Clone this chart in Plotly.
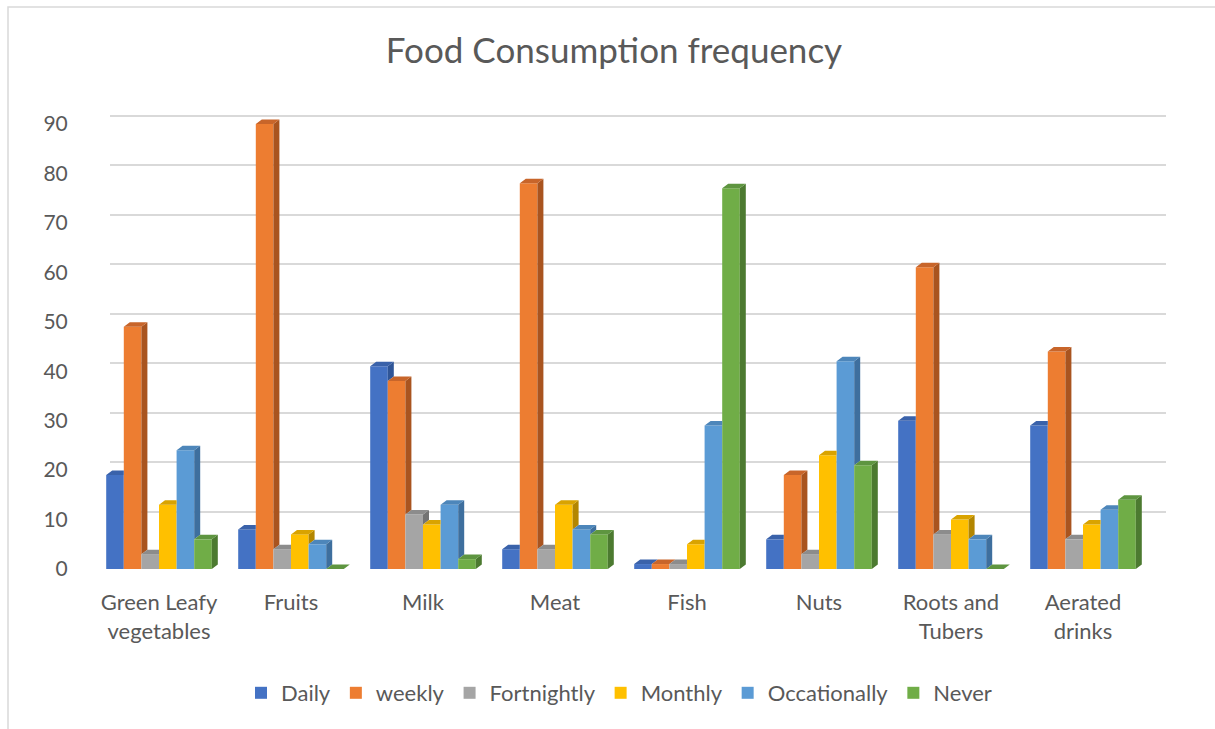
import plotly.graph_objects as go

# ---------------- data ----------------
categories = ["Green Leafy<br>vegetables", "Fruits", "Milk", "Meat", "Fish", "Nuts",
              "Roots and<br>Tubers", "Aerated<br>drinks"]
series_names = ["Daily", "weekly", "Fortnightly", "Monthly", "Occationally", "Never"]
daily = [19, 8, 41, 4, 1, 6, 30, 29]
weekly = [49, 90, 38, 78, 1, 19, 61, 44]
fortnightly = [3, 4, 11, 4, 1, 3, 7, 6]
monthly = [13, 7, 9, 13, 5, 23, 10, 9]
occasionally = [24, 5, 13, 8, 29, 42, 6, 12]
never = [6, 0, 2, 7, 77, 21, 0, 14]
y_ticks = [0, 10, 20, 30, 40, 50, 60, 70, 80, 90]
title_text = "Food Consumption frequency"

series_values = [daily, weekly, fortnightly, monthly, occasionally, never]

# ---------------- style ----------------
front_colors = ["#4472C4", "#ED7D31", "#A5A5A5", "#FFC000", "#5B9BD5", "#70AD47"]
side_colors = ["#2F5597", "#A9541F", "#737373", "#B38600", "#3E6F9E", "#4C7A30"]
top_colors = ["#3A62AA", "#C8652A", "#8C8C8C", "#D9A300", "#4D86BA", "#5E9540"]
TEXT = "#595959"
GRID = "#D9D9D9"
FONT = "Lato"

W, H = 1215, 729
# front plot area (pixels)
FX0, FX1 = 93, 1149
FYB, FYT = 569, 114
YMAX = 92
# back wall offset (pixels)
BDX, BDY = 17, 8
# bar depth (pixels)
DPX, DPY = 6, 4.5

ncat = len(categories)
px_per_x = (FX1 - FX0) / ncat
px_per_y = (FYB - FYT) / YMAX
dx = DPX / px_per_x
dy = DPY / px_per_y

bargap = 0.2
nser = len(series_values)
bw = (1 - bargap) / nser

fig = go.Figure()

# ---- back-wall grid subplot (x, y) ----
gx0, gx1 = FX0 + BDX, FX1 + BDX
gyb, gyt = FYB - BDY, FYT - BDY
conn_x, conn_y = [], []
for t in y_ticks:
    conn_x += [-BDX / (gx1 - gx0), 0, None]
    conn_y += [t - BDY / px_per_y, t, None]
fig.add_trace(go.Scatter(x=conn_x, y=conn_y, mode="lines", line=dict(color=GRID, width=1.5),
                         hoverinfo="skip", showlegend=False, cliponaxis=False,
                         xaxis="x", yaxis="y"))

# ---- bars (front faces) on x2/y2 ----
xs = list(range(ncat))
for j, (name, vals) in enumerate(zip(series_names, series_values)):
    fig.add_trace(go.Bar(x=xs, y=vals, name=name, marker=dict(color=front_colors[j], line=dict(width=0)),
                         xaxis="x2", yaxis="y2"))

# ---- 3D side and top faces ----
for j, vals in enumerate(series_values):
    sx, sy, tx, ty = [], [], [], []
    for i, v in enumerate(vals):
        L = i - (1 - bargap) / 2 + j * bw
        R = L + bw
        vn = series_values[j + 1][i] if j < nser - 1 else None
        bottom = max(vn, 0) if vn is not None else 0
        if bottom < v:
            sx += [R, R, R + dx, R + dx, R, None]
            sy += [bottom, v, v + dy, bottom + dy, bottom, None]
        if vn is None or vn <= v:
            pts = [(L, v), (R, v), (R + dx, v + dy), (L + dx, v + dy)]
        elif vn < v + dy:
            pts = [(L, v), (R, v), (R, vn), (R + dx * (vn - v) / dy, vn), (R + dx, v + dy), (L + dx, v + dy)]
        else:
            pts = [(L, v), (R, v), (R, v + dy), (L + dx, v + dy)]
        pts.append(pts[0])
        tx += [p[0] for p in pts] + [None]
        ty += [p[1] for p in pts] + [None]
    fig.add_trace(go.Scatter(x=sx, y=sy, mode="lines", fill="toself", fillcolor=side_colors[j],
                             line=dict(width=0, color=side_colors[j]), hoverinfo="skip",
                             showlegend=False, xaxis="x2", yaxis="y2", cliponaxis=False))
    fig.add_trace(go.Scatter(x=tx, y=ty, mode="lines", fill="toself", fillcolor=top_colors[j],
                             line=dict(width=0, color=top_colors[j]), hoverinfo="skip",
                             showlegend=False, xaxis="x2", yaxis="y2", cliponaxis=False))

fig.update_layout(
    width=W, height=H, autosize=False,
    margin=dict(l=0, r=0, t=0, b=0, autoexpand=False),
    paper_bgcolor="white",
    plot_bgcolor="rgba(0,0,0,0)",
    barmode="group", bargap=bargap, bargroupgap=0,
    font=dict(family=FONT, color=TEXT, size=20),
    title=dict(text=title_text, x=614 / W, xanchor="center", y=1 - 51 / H, yanchor="middle",
               yref="container", font=dict(family=FONT, size=35, color=TEXT)),
    xaxis=dict(domain=[gx0 / W, gx1 / W], range=[0, 1], visible=False, fixedrange=True,
               automargin=False),
    yaxis=dict(domain=[(H - gyb) / H, (H - gyt) / H], range=[0, YMAX], anchor="x",
               tickvals=y_ticks, showgrid=True, gridcolor=GRID, gridwidth=2, automargin=False,
               showticklabels=False, zeroline=False, showline=False, ticks=""),
    xaxis2=dict(domain=[FX0 / W, FX1 / W], range=[-0.5, ncat - 0.5], anchor="y2", automargin=False,
                tickvals=xs, ticktext=categories, showgrid=False, zeroline=False, showline=False,
                ticks="outside", ticklen=14, tickcolor="rgba(0,0,0,0)",
                tickfont=dict(family=FONT, size=22, color=TEXT)),
    yaxis2=dict(domain=[(H - FYB) / H, (H - FYT) / H], range=[0, YMAX], anchor="x2", automargin=False,
                tickvals=y_ticks, showgrid=False, zeroline=False, showline=False,
                ticks="outside", ticklen=20, tickcolor="rgba(0,0,0,0)",
                tickfont=dict(family=FONT, size=21, color=TEXT)),
    legend=dict(orientation="h", x=619 / W, xanchor="center", y=1 - 693 / H, yanchor="middle",
                font=dict(family=FONT, size=22, color=TEXT), traceorder="normal"),
    shapes=[dict(type="rect", xref="paper", yref="paper", x0=8 / W, x1=1.02, y0=-0.02, y1=1 - 7 / H,
                 line=dict(color=GRID, width=1.5), layer="below")],
)

fig.write_html("out.html")
